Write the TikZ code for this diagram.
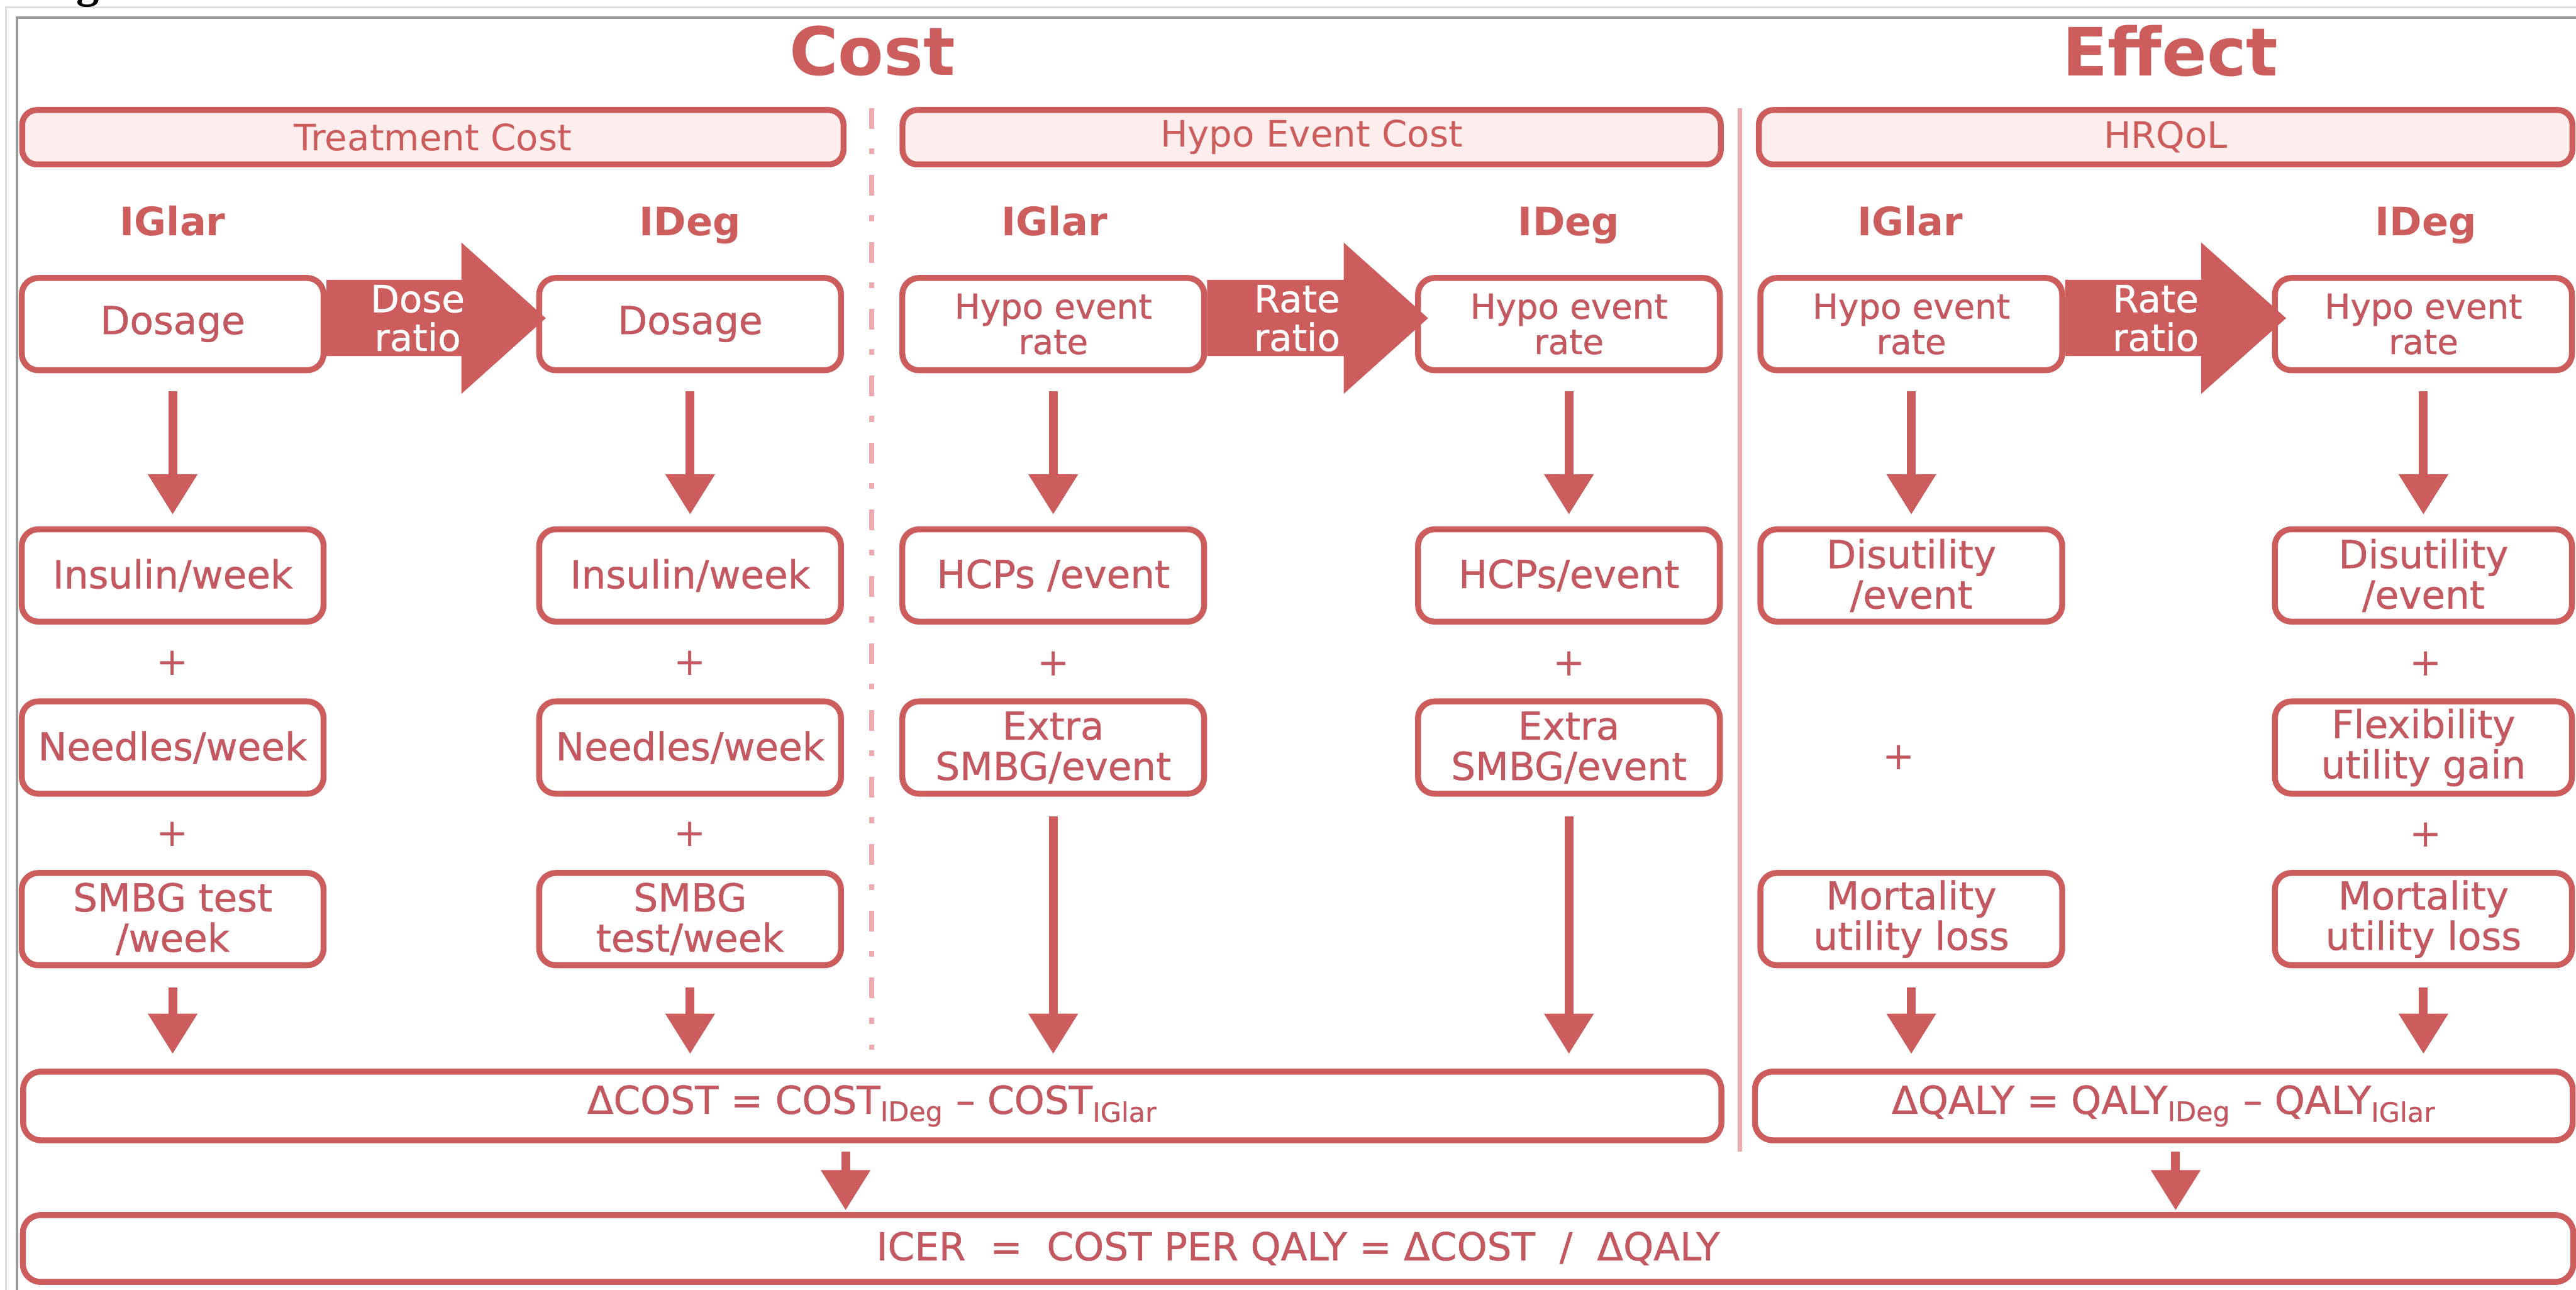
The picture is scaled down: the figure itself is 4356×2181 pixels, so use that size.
\documentclass[tikz,border=0pt]{standalone}
\usepackage{fontspec}
\setmainfont{DejaVu Sans}
\newfontfamily\bodyf[FakeBold=0.8]{DejaVu Sans}
\newfontfamily\gserif{Liberation Serif}
\usetikzlibrary{arrows.meta,calc}
\definecolor{rd}{RGB}{205,92,92}
\definecolor{rdtext}{RGB}{196,88,96}
\definecolor{hdfill}{RGB}{253,237,237}
\definecolor{sepc}{RGB}{236,172,175}
\begin{document}
\begin{tikzpicture}[x=0.01cm,y=-0.01cm,
  box/.style={draw=rd, line width=0.1cm, rounded corners=0.28cm, fill=white,
    minimum width=5.1cm, minimum height=1.56cm, inner sep=0pt, align=center,
    text=rdtext, font=\bodyf\fontsize{18.5pt}{19.4pt}\selectfont},
  smalltxt/.style={font=\bodyf\fontsize{16.5pt}{17pt}\selectfont},
  hdr/.style={draw=rd, line width=0.1cm, rounded corners=0.25cm, fill=hdfill,
    minimum height=0.92cm, inner sep=0pt, text=rd, font=\fontsize{17.5pt}{18pt}\selectfont},
  big/.style={draw=rd, line width=0.1cm, rounded corners=0.3cm, fill=white,
    minimum height=1.16cm, inner sep=0pt, text=rdtext, font=\bodyf\fontsize{18.5pt}{19pt}\selectfont},
  lbl/.style={text=rd, anchor=base, inner sep=0pt, font=\fontsize{18.8pt}{19pt}\selectfont\bfseries},
  ttl/.style={text=rd, inner sep=0pt, font=\fontsize{32pt}{34pt}\selectfont\bfseries},
  plussign/.style={text=rdtext, inner sep=0pt, font=\fontsize{18.5pt}{19pt}\selectfont},
  darr/.style={draw=rd, line width=0.15cm, -{Triangle[length=0.68cm,width=0.8cm]}},
  ratiotxt/.style={text=white, align=center, inner sep=0pt, font=\bodyf\fontsize{18pt}{18.6pt}\selectfont},
  blockarr/.style={fill=rd},
]
\useasboundingbox (0,0) rectangle (4356,2181);
\fill[white] (0,0) rectangle (4356,2181);
% frame
\draw[black!12, line width=0.03cm] (10,2181) -- (10,12) -- (4356,12);
\draw[black!40, line width=0.04cm] (29,2181) -- (29,30) -- (4356,30);
\node[anchor=base west, inner sep=0pt, font=\gserif\bfseries\fontsize{22pt}{22pt}\selectfont] (gfrag) at (128,-5) {g};

% titles
\node[ttl] (tcost) at (1475,86) {Cost};
\node[ttl] (teffect) at (3670,86) {Effect};

% separators
\draw[sepc, line width=0.09cm, dash pattern=on 0.35cm off 0.33cm on 0.1cm off 0.35cm] (1474,183) -- (1474,1775);
\draw[sepc, line width=0.07cm] (2942,183) -- (2942,1947);

% headers
\node[hdr, minimum width=13.88cm] (h1) at (732,232) {Treatment Cost};
\node[hdr, minimum width=13.83cm] (h2) at (2218,232) {Hypo Event Cost};
\node[hdr, minimum width=13.75cm] (h3) at (3662,232) {HRQoL};

% column labels
\node[lbl] (la) at (292,398) {IGlar};
\node[lbl] (lb) at (1167,398) {IDeg};
\node[lbl] (lc) at (1783,398) {IGlar};
\node[lbl] (ld) at (2653,398) {IDeg};
\node[lbl] (le) at (3230,398) {IGlar};
\node[lbl] (lf) at (4102,398) {IDeg};

% row 1
\node[box] (a1) at (292,548) {Dosage};
\node[box] (b1) at (1167,548) {Dosage};
\node[box, smalltxt] (c1) at (1781,548) {Hypo event\\rate};
\node[box, smalltxt] (d1) at (2653,548) {Hypo event\\rate};
\node[box, smalltxt] (e1) at (3232,548) {Hypo event\\rate};
\node[box, smalltxt, minimum width=5.02cm] (f1) at (4098,548) {Hypo event\\rate};

% row 2
\node[box] (a2) at (292,973) {Insulin/week};
\node[box] (b2) at (1167,973) {Insulin/week};
\node[box] (c2) at (1781,973) {HCPs /event};
\node[box] (d2) at (2653,973) {HCPs/event};
\node[box] (e2) at (3232,973) {Disutility\\/event};
\node[box, minimum width=5.02cm] (f2) at (4098,973) {Disutility\\/event};

% row 3
\node[box] (a3) at (292,1264) {Needles/week};
\node[box] (b3) at (1167,1264) {Needles/week};
\node[box] (c3) at (1781,1264) {Extra\\SMBG/event};
\node[box] (d3) at (2653,1264) {Extra\\SMBG/event};
\node[box, minimum width=5.02cm] (f3) at (4098,1264) {Flexibility\\utility gain};

% row 4
\node[box] (a4) at (292,1554) {SMBG test\\/week};
\node[box] (b4) at (1167,1554) {SMBG\\test/week};
\node[box] (e4) at (3232,1554) {Mortality\\utility loss};
\node[box, minimum width=5.02cm] (f4) at (4098,1554) {Mortality\\utility loss};

% plus signs
\node[plussign] (pa1) at (292,1121) {+};
\node[plussign] (pb1) at (1167,1121) {+};
\node[plussign] (pa2) at (292,1411) {+};
\node[plussign] (pb2) at (1167,1411) {+};
\node[plussign] (pc1) at (1781,1122) {+};
\node[plussign] (pd1) at (2653,1122) {+};
\node[plussign] (pe1) at (3211,1281) {+};
\node[plussign] (pf1) at (4102,1122) {+};
\node[plussign] (pf2) at (4102,1412) {+};

% result boxes
\node[big, minimum width=28.7cm] (dcost) at (1475,1870)
  {ΔCOST = COST\textsubscript{IDeg} – COST\textsubscript{IGlar}};
\node[big, minimum width=13.82cm] (dqaly) at (3659,1870)
  {ΔQALY = QALY\textsubscript{IDeg} – QALY\textsubscript{IGlar}};
\node[big, minimum width=43.1cm, minimum height=1.13cm] (icer) at (2195,2111)
  {ICER\ \ =\ \ COST PER QALY = ΔCOST\ \ /\ \ ΔQALY};

% block ratio arrows
\fill[blockarr] ($(a1.east)+(0,-75)$) -- ++(228,0) -- ++(0,-63) -- ($(b1.west)+(16,-10)$)
  -- ($(a1.east)+(228,118)$) -- ++(0,-64) -- ($(a1.east)+(0,54)$) -- cycle;
\node[ratiotxt] (r1) at ($(a1.east)+(154,-10)$) {Dose\\ratio};
\fill[blockarr] ($(c1.east)+(0,-75)$) -- ++(231,0) -- ++(0,-63) -- ($(d1.west)+(22,-10)$)
  -- ($(c1.east)+(231,118)$) -- ++(0,-64) -- ($(c1.east)+(0,54)$) -- cycle;
\node[ratiotxt] (r2) at ($(c1.east)+(152,-10)$) {Rate\\ratio};
\fill[blockarr] ($(e1.east)+(0,-75)$) -- ++(230,0) -- ++(0,-63) -- ($(f1.west)+(24,-10)$)
  -- ($(e1.east)+(230,118)$) -- ++(0,-64) -- ($(e1.east)+(0,54)$) -- cycle;
\node[ratiotxt] (r3) at ($(e1.east)+(153,-10)$) {Rate\\ratio};

% vertical arrows row1 -> row2
\foreach \u/\v in {a1/a2,b1/b2,c1/c2,d1/d2,e1/e2,f1/f2}
  \draw[darr, shorten <=0.3cm, shorten >=0.2cm] (\u) -- (\v);

% arrows to result boxes
\foreach \u in {a4,b4,e4,f4}
  \draw[darr, shorten <=0.33cm, shorten >=0.25cm] (\u) -- (\u |- dcost.north);
\foreach \u in {c3,d3}
  \draw[darr, shorten <=0.33cm, shorten >=0.25cm] (\u) -- (\u |- dcost.north);

% arrows to ICER
\coordinate (p1) at ($(dcost.south)+(-45,0)$);
\coordinate (p2) at ($(dqaly.south)+(20,0)$);
\draw[darr, shorten <=0.14cm, shorten >=0.03cm] (p1) -- (p1 |- icer.north);
\draw[darr, shorten <=0.14cm, shorten >=0.03cm] (p2) -- (p2 |- icer.north);
\end{tikzpicture}
\end{document}
